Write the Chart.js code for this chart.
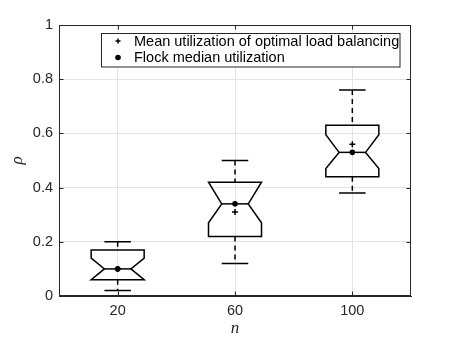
<!DOCTYPE html>
<html>
<head>
<meta charset="utf-8">
<script src="https://cdn.jsdelivr.net/npm/chart.js@4.4.0/dist/chart.umd.min.js"></script>
<style>
    html, body { margin: 0; padding: 0; background: #fff; }
    #wrap { width: 455px; height: 341px; }
</style>
</head>
<body>
<div id="wrap"><canvas id="myChart" width="455" height="341"></canvas></div>
<script>
// dados (boxplots com entalhe)
const categories = [20, 60, 100];
const whiskerLow = [0.02, 0.12, 0.38];
const q1 = [0.06, 0.22, 0.44];
const notchLow = [0.06, 0.27, 0.47];
const medians = [0.10, 0.34, 0.53];
const notchHigh = [0.14, 0.42, 0.595];
const q3 = [0.17, 0.42, 0.63];
const whiskerHigh = [0.20, 0.50, 0.76];
const means = [0.10, 0.31, 0.56];
const yTicks = [0, 0.2, 0.4, 0.6, 0.8, 1];
const legendLabels = ['Mean utilization of optimal load balancing', 'Flock median utilization'];

const axisColor = '#262626';
const tickFont = { family: "'Liberation Sans', Arial, sans-serif", size: 14.5 };

// desenha as caixas, bigodes e entalhes usando as escalas do Chart.js
const boxPlugin = {
    id: 'notchedBoxes',
    beforeDatasetsDraw(chart) {
        const { ctx, scales: { x, y } } = chart;
        const half = 26.5;
        const nh = half / 2;
        ctx.save();
        ctx.strokeStyle = '#000';
        ctx.lineWidth = 1.5;
        categories.forEach((c, i) => {
            const cx = x.getPixelForValue(c);
            const py = v => y.getPixelForValue(v);
            // bigodes tracejados
            ctx.setLineDash([5, 4]);
            ctx.beginPath();
            ctx.moveTo(cx, py(whiskerHigh[i]));
            ctx.lineTo(cx, py(q3[i]));
            ctx.moveTo(cx, py(q1[i]));
            ctx.lineTo(cx, py(whiskerLow[i]));
            ctx.stroke();
            ctx.setLineDash([]);
            // extremidades
            ctx.beginPath();
            ctx.moveTo(cx - nh, py(whiskerHigh[i]));
            ctx.lineTo(cx + nh, py(whiskerHigh[i]));
            ctx.moveTo(cx - nh, py(whiskerLow[i]));
            ctx.lineTo(cx + nh, py(whiskerLow[i]));
            ctx.stroke();
            // caixa com entalhe
            ctx.beginPath();
            ctx.moveTo(cx - half, py(q3[i]));
            ctx.lineTo(cx + half, py(q3[i]));
            ctx.lineTo(cx + half, py(notchHigh[i]));
            ctx.lineTo(cx + nh, py(medians[i]));
            ctx.lineTo(cx + half, py(notchLow[i]));
            ctx.lineTo(cx + half, py(q1[i]));
            ctx.lineTo(cx - half, py(q1[i]));
            ctx.lineTo(cx - half, py(notchLow[i]));
            ctx.lineTo(cx - nh, py(medians[i]));
            ctx.lineTo(cx - half, py(notchHigh[i]));
            ctx.closePath();
            ctx.stroke();
            // linha da mediana
            ctx.beginPath();
            ctx.moveTo(cx - nh, py(medians[i]));
            ctx.lineTo(cx + nh, py(medians[i]));
            ctx.stroke();
        });
        ctx.restore();
    },
    afterDraw(chart) {
        const { ctx, chartArea: a, scales: { x, y } } = chart;
        ctx.save();
        // moldura e marcas internas
        ctx.strokeStyle = axisColor;
        ctx.lineWidth = 1;
        const L = Math.round(a.left) + 0.5, R = Math.round(a.right) - 0.5;
        const T = Math.round(a.top) + 0.5, B = Math.round(a.bottom) - 0.5;
        ctx.strokeRect(L, T, R - L, B - T);
        ctx.beginPath();
        categories.forEach(c => {
            const px = Math.round(x.getPixelForValue(c)) + 0.5;
            ctx.moveTo(px, B); ctx.lineTo(px, B - 4);
            ctx.moveTo(px, T); ctx.lineTo(px, T + 4);
        });
        yTicks.forEach(v => {
            const py = Math.round(y.getPixelForValue(v)) + 0.5;
            ctx.moveTo(L, py); ctx.lineTo(L + 4, py);
            ctx.moveTo(R, py); ctx.lineTo(R - 4, py);
        });
        ctx.stroke();

        // legenda
        const lx = 101.5, ly = 33.5, lw = 298.5, lh = 33.5;
        ctx.fillStyle = '#fff';
        ctx.fillRect(lx, ly, lw, lh);
        ctx.strokeStyle = axisColor;
        ctx.strokeRect(lx, ly, lw, lh);
        ctx.strokeStyle = '#000';
        ctx.lineWidth = 1.5;
        ctx.beginPath();
        ctx.moveTo(115.5, 41); ctx.lineTo(120.5, 41);
        ctx.moveTo(118, 38.5); ctx.lineTo(118, 43.5);
        ctx.stroke();
        ctx.fillStyle = '#000';
        ctx.beginPath();
        ctx.arc(118, 57.5, 2.8, 0, Math.PI * 2);
        ctx.fill();
        ctx.font = "14.5px 'Liberation Sans', Arial, sans-serif";
        ctx.textBaseline = 'alphabetic';
        ctx.fillText(legendLabels[0], 134, 45.5);
        ctx.fillText(legendLabels[1], 134, 62);
        ctx.restore();
    }
};

const ctx = document.getElementById('myChart').getContext('2d');
const myChart = new Chart(ctx, {
    type: 'scatter',
    data: {
        datasets: [{
            label: legendLabels[0],
            data: categories.map((c, i) => ({ x: c, y: means[i] })),
            pointStyle: 'cross',
            pointRadius: 3,
            borderColor: '#000',
            borderWidth: 1.5
        }, {
            label: legendLabels[1],
            data: categories.map((c, i) => ({ x: c, y: medians[i] })),
            pointStyle: 'circle',
            pointRadius: 2.8,
            backgroundColor: '#000',
            borderColor: '#000',
            borderWidth: 0
        }]
    },
    options: {
        responsive: false,
        animation: false,
        devicePixelRatio: 1,
        layout: { padding: { left: 0, right: 44, top: 25, bottom: 0 } },
        plugins: {
            legend: { display: false },
            tooltip: { enabled: false }
        },
        scales: {
            x: {
                type: 'linear',
                min: 0,
                max: 120,
                afterBuildTicks: scale => { scale.ticks = categories.map(v => ({ value: v })); },
                afterFit: scale => { scale.height = 45; },
                grid: { color: '#e3e3e3', drawTicks: false },
                border: { display: true, color: axisColor },
                ticks: { font: tickFont, color: axisColor, padding: 6, maxRotation: 0 },
                title: {
                    display: true,
                    text: 'n',
                    font: { family: "'Liberation Serif', 'Times New Roman', serif", size: 17, style: 'italic' },
                    color: axisColor,
                    padding: { top: 0, bottom: 2 }
                }
            },
            y: {
                min: 0,
                max: 1,
                afterBuildTicks: scale => { scale.ticks = yTicks.map(v => ({ value: v })); },
                afterFit: scale => { scale.width = 59; },
                grid: { color: '#e3e3e3', drawTicks: false },
                border: { display: true, color: axisColor },
                ticks: { font: tickFont, color: axisColor, padding: 6, callback: v => String(v) },
                title: {
                    display: true,
                    text: 'ρ',
                    font: { family: "'Liberation Serif', 'Times New Roman', serif", size: 17, style: 'italic' },
                    color: axisColor,
                    padding: { top: 7, bottom: 0 }
                }
            }
        }
    },
    plugins: [boxPlugin]
});
</script>
</body>
</html>
